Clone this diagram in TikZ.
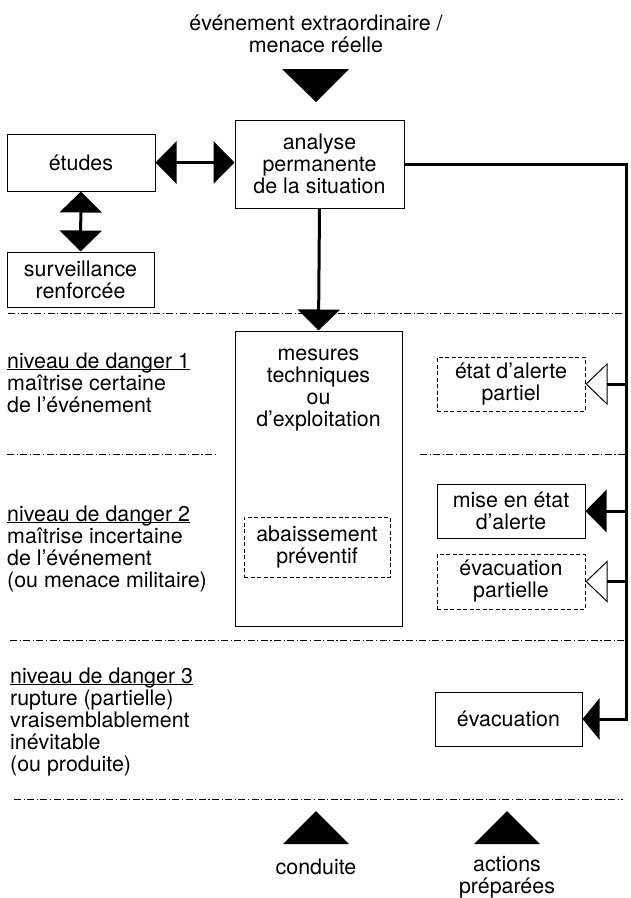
\documentclass[tikz,border=0pt]{standalone}
\usepackage{fontspec}
\setmainfont{TeX Gyre Heros}
\usetikzlibrary{arrows.meta}
\begin{document}
\begin{tikzpicture}[x=1pt,y=-1pt,
  every node/.style={font=\fontsize{21.4}{22}\selectfont, inner sep=0pt, align=center},
  box/.style={draw, line width=1pt, minimum width=148pt, minimum height=54pt},
  dbox/.style={box, dash pattern=on 4pt off 2.5pt},
  conn/.style={line width=3pt},
  sep/.style={line width=0.8pt, dash pattern=on 7pt off 2.5pt on 1.2pt off 2.5pt},
  Big/.tip={Triangle[length=21pt, width=42pt]},
  BigS/.tip={Triangle[length=17pt, width=41pt]},
  Open/.tip={Triangle[open, line width=1pt, length=22pt, width=42pt]}
]
\fill[white] (0,0) rectangle (630,898);
\useasboundingbox (0,0) rectangle (630,898);

% level separators
\draw[sep] (8,313) -- (624,313);
\draw[sep] (7,454) -- (217,454);
\draw[sep] (420,454) -- (626,454);
\draw[sep] (10,640) -- (625,640);
\draw[sep] (14,799) -- (623,799);

% incoming event
\node (title) at (316,34) {événement extraordinaire /\\menace réelle};
\fill (282,69) -- (349,69) -- (316,102) -- cycle;

% boxes
\node[box, minimum width=169pt, minimum height=88pt] (analyse) at (319.5,164) {analyse\\permanente\\de la situation};
\node[box, minimum width=148pt, minimum height=57pt] (etudes) at (81,162.5) {études};
\node[box, minimum width=147pt, minimum height=55pt] (surv) at (80.5,279.5) {surveillance\\renforcée};
\node[box, minimum width=167pt, minimum height=295pt] (mes) at (318.5,478.5) {};
\node (mestext) at (318.5,390) {mesures\\techniques\\ou\\d’exploitation};
\node[dbox, minimum width=146pt, minimum height=60pt] (abais) at (317,547) {abaissement\\préventif};
\node[dbox] (etat) at (511,384) {état d’alerte\\partiel};
\node[box] (mise) at (511,511) {mise en état\\d’alerte};
\node[dbox, minimum height=55pt] (evpart) at (511,581.5) {évacuation\\partielle};
\node[box, minimum width=147pt] (evac) at (508.5,719) {évacuation};

% danger levels (anchored at the baseline of the last line)
\node[anchor=base west, align=left] (lvl1) at (7,412) {\underline{\smash{niveau de danger 1}}\\maîtrise certaine\\de l’événement};
\node[anchor=base west, align=left] (lvl2) at (7,587) {\underline{\smash{niveau de danger 2}}\\maîtrise incertaine\\de l’événement\\(ou menace militaire)};
\node[anchor=base west, align=left] (lvl3) at (10,771) {\underline{\smash{niveau de danger 3}}\\rupture (partielle)\\vraisemblablement\\inévitable\\(ou produite)};

% connectors
\draw[conn, {Big}-{Big}] (etudes.east) -- (etudes.east -| analyse.west);
\draw[conn, {Big}-{Big}] (etudes.south) -- (surv.north);
\draw[conn, -{Big}] (analyse.south) -- (mes.north);
\coordinate (rt) at (626,164);
\draw[conn, -{BigS}] (analyse.east) -- (rt) |- (evac.east);
\draw[conn, -{Open}] (rt |- etat.east) -- (etat.east);
\draw[conn, -{Big}] (rt |- mise.east) -- (mise.east);
\draw[conn, -{Open}] (rt |- evpart.east) -- (evpart.east);

% bottom legend
\fill (283,844) -- (349,844) -- (316,811) -- cycle;
\fill (474,844) -- (540,844) -- (507,811) -- cycle;
\node (cond) at (316,867) {conduite};
\node (act) at (507,877.5) {actions\\préparées};
\end{tikzpicture}
\end{document}
